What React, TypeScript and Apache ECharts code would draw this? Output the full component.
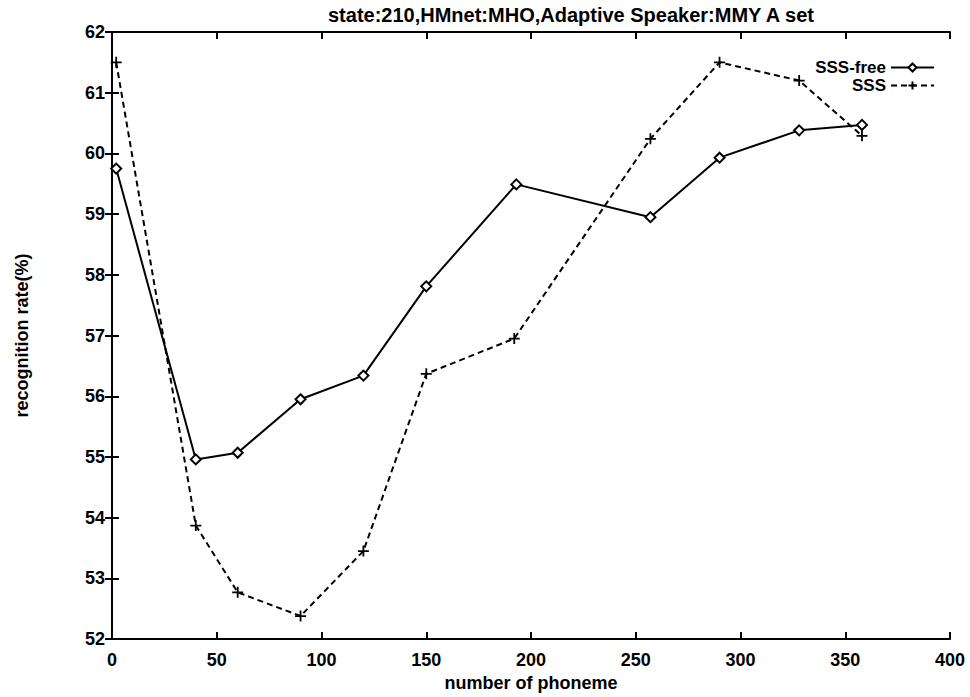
import React, { useEffect, useRef } from "react";
import * as echarts from "echarts";

const titleText = "state:210,HMnet:MHO,Adaptive Speaker:MMY A set";
const xName = "number of phoneme";
const yName = "recognition rate(%)";

const freeX = [2, 40, 60, 90, 120, 150, 193, 257, 290, 328, 358];
const freeY = [59.75, 54.96, 55.07, 55.95, 56.34, 57.81, 59.49, 58.95, 59.93, 60.38, 60.47];
const sssX = [2, 40, 60, 90, 120, 150, 192, 257, 290, 328, 358];
const sssY = [61.5, 53.87, 52.77, 52.38, 53.45, 56.37, 56.95, 60.24, 61.5, 61.2, 60.29];

const FONT = "'Liberation Sans', Arial, Helvetica, sans-serif";
const PLUS = "path://M5,0L5,10M0,5L10,5";

export default function App() {
  const ref = useRef<HTMLDivElement>(null);
  useEffect(() => {
    if (!ref.current) return;
    const chart = echarts.init(ref.current, null, { renderer: "svg" });
    const axisLine = { show: true, lineStyle: { color: "#000", width: 2 } };
    const tick = { show: true, inside: true, length: 7, lineStyle: { color: "#000", width: 2 } };
    const lbl = { color: "#000", fontSize: 18, fontWeight: "bold" as const, fontFamily: FONT };
    const legendText = { color: "#000", fontSize: 17, fontWeight: "bold" as const, fontFamily: FONT, lineHeight: 17 };
    chart.setOption({
      animation: false,
      backgroundColor: "#fff",
      graphic: [
        {
          type: "text",
          x: 571,
          y: 5,
          style: {
            text: titleText,
            textAlign: "center",
            textVerticalAlign: "top",
            fill: "#000",
            font: `bold 20px ${FONT}`,
          },
        },
      ],
      legend: [
        {
          data: ["SSS-free"],
          orient: "vertical",
          align: "right",
          right: 35,
          top: 59,
          padding: 0,
          itemWidth: 43,
          itemHeight: 10,
          textStyle: legendText,
        },
        {
          data: ["SSS"],
          orient: "vertical",
          align: "right",
          right: 35,
          top: 77,
          padding: 0,
          itemWidth: 43,
          itemHeight: 10,
          textStyle: legendText,
        },
      ],
      grid: { left: 112, right: 20, top: 32, bottom: 56, containLabel: false },
      xAxis: [
        {
          type: "value",
          position: "bottom",
          min: 0,
          max: 400,
          interval: 50,
          axisLine,
          axisTick: tick,
          splitLine: { show: false },
          axisLabel: { ...lbl, margin: 12 },
          name: xName,
          nameLocation: "middle",
          nameGap: 26,
          nameTextStyle: { color: "#000", fontSize: 18, fontWeight: "bold", fontFamily: FONT },
        },
        {
          type: "value",
          position: "top",
          min: 0,
          max: 400,
          interval: 50,
          axisLine,
          axisTick: tick,
          splitLine: { show: false },
          axisLabel: { show: false },
        },
      ],
      yAxis: [
        {
          type: "value",
          position: "left",
          min: 52,
          max: 62,
          interval: 1,
          axisLine,
          axisTick: tick,
          splitLine: { show: false },
          axisLabel: { ...lbl, margin: 7 },
          name: yName,
          nameLocation: "middle",
          nameGap: 81,
          nameRotate: 90,
          nameTextStyle: { color: "#000", fontSize: 18, fontWeight: "bold", fontFamily: FONT },
        },
        {
          type: "value",
          position: "right",
          min: 52,
          max: 62,
          interval: 1,
          axisLine,
          axisTick: tick,
          splitLine: { show: false },
          axisLabel: { show: false },
        },
      ],
      series: [
        {
          name: "SSS-free",
          type: "line",
          data: freeX.map((x, i) => [x, freeY[i]]),
          symbol: "emptyDiamond",
          symbolSize: 10,
          showAllSymbol: true,
          itemStyle: { color: "#000", borderColor: "#000", borderWidth: 1.6 },
          lineStyle: { color: "#000", width: 2, type: "solid" },
          z: 3,
        },
        {
          name: "SSS",
          type: "line",
          data: sssX.map((x, i) => [x, sssY[i]]),
          symbol: PLUS,
          symbolSize: 11,
          showAllSymbol: true,
          itemStyle: { color: "#000", borderColor: "#000", borderWidth: 1.8 },
          lineStyle: { color: "#000", width: 2, type: [6, 4] },
          z: 2,
        },
      ],
    });
    return () => chart.dispose();
  }, []);
  return (
    <div
      ref={ref}
      style={{ position: "fixed", left: 0, top: 0, width: 970, height: 697, background: "#fff" }}
    />
  );
}
